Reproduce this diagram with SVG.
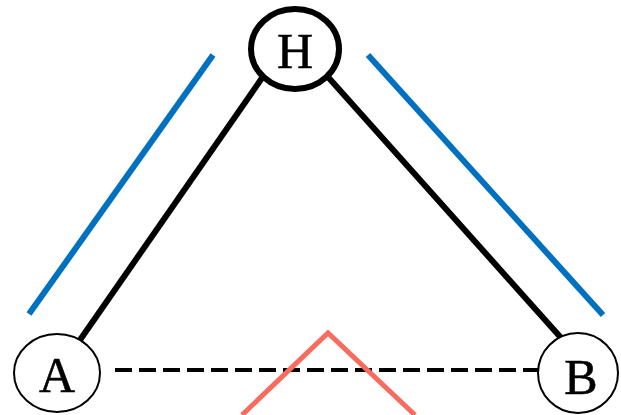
<svg xmlns="http://www.w3.org/2000/svg" width="621" height="415" viewBox="0 0 621 415">
<style>
.lbl{font-family:"Liberation Serif","DejaVu Serif",serif;font-size:50px;fill:#000;stroke:#000;stroke-width:0.6;text-anchor:middle}
.node{fill:#fff;stroke:#000}
.blue{stroke:#0070C0;stroke-width:6}
</style>
<rect width="621" height="415" fill="#fff"/>
<g id="guides">
<line class="blue" x1="213" y1="55" x2="29" y2="314"/>
<line class="blue" x1="368" y1="55" x2="603" y2="315"/>
</g>
<g id="connectors">
<line x1="262" y1="78" x2="80" y2="340" stroke="#000" stroke-width="6"/>
<line x1="328" y1="77" x2="563" y2="340" stroke="#000" stroke-width="6"/>
<line x1="115" y1="370" x2="538" y2="370" stroke="#000" stroke-width="4" stroke-dasharray="17 7"/>
</g>
<polyline points="242,415 328,333 415,415" fill="none" stroke="#F76C5E" stroke-width="5"/>
<g id="H">
<ellipse class="node" cx="295" cy="49" rx="44" ry="40" stroke-width="6"/>
<text class="lbl" x="295" y="68">H</text>
</g>
<g id="A">
<ellipse class="node" cx="57" cy="373" rx="43" ry="39" stroke-width="2"/>
<text class="lbl" x="57" y="392">A</text>
</g>
<g id="B">
<ellipse class="node" cx="578" cy="373" rx="40" ry="40" stroke-width="2"/>
<text class="lbl" x="581" y="394">B</text>
</g>
</svg>
